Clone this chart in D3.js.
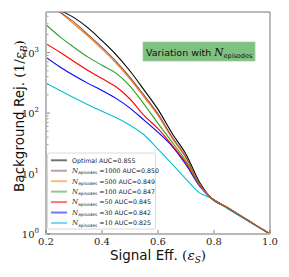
<!DOCTYPE html>
<html><head><meta charset="utf-8">
<script src="https://cdn.jsdelivr.net/npm/d3@7"></script>
<style>body{margin:0;background:#fff}svg{display:block}</style>
</head><body><svg id="c" width="289" height="277"></svg>
<script>
const eff = [0.2,0.25,0.3,0.35,0.4,0.45,0.5,0.55,0.6,0.65,0.7,0.75,0.786,0.85,0.9,0.95,1.0];
const optimal = [6800,5040,3790,2570,1574,927,497,242,115,46.5,20.9,6.97,4.09,2.70,1.94,1.39,1];
const n1000 = [7200,4700,3190,1990,1220,718,391,198,97,40.7,18.7,6.58,4.09,2.70,1.94,1.39,1];
const n500 = [7000,4670,2960,1875,1143,671,365,184,91,38.6,18.0,6.45,4.09,2.70,1.94,1.39,1];
const n100 = [2900,1824,1224,843,617,459,279,141,67.6,33.2,16.1,6.33,4.09,2.70,1.94,1.39,1];
const n50 = [1409,1012,713,508,372,272,171,91.6,55.4,29.6,14.9,6.26,4.09,2.70,1.94,1.39,1];
const n30 = [833,578,417,310,237,175,121,76.6,48,28.5,14.0,6.05,4.09,2.70,1.94,1.39,1];
const n10 = [313,236,179,137,107,84.6,63.1,43.8,25.3,14.4,8.11,4.74,4.01,2.59,1.87,1.37,1];
const labels = ["Optimal","1000","500","100","50","30","10"];
const aucs = ["0.855","0.850","0.849","0.847","0.845","0.842","0.825"];
const colors = ["#000000","#8c564b","#ff7f0e","#2ca02c","#ff0000","#0000ff","#00c4cc"];
const xTicks = [0.2,0.4,0.6,0.8,1.0];
const yTicks = [1,10,100,1000];

const series = [optimal,n1000,n500,n100,n50,n30,n10];
const svg = d3.select("#c");
const x = d3.scaleLinear().domain([0.2,1.0]).range([46,270]);
const y = d3.scaleLog().domain([1,4700]).range([234,12]);
const L = 46, R = 270, T = 12, B = 234;

svg.append("defs").append("clipPath").attr("id","clip")
  .append("rect").attr("x",L).attr("y",T).attr("width",R-L).attr("height",B-T);

const line = d3.line().x((d,i)=>x(eff[i])).y(d=>y(d)).curve(d3.curveMonotoneX);
const g = svg.append("g").attr("clip-path","url(#clip)");
const order = [0,6,5,4,3,2,1];
order.forEach(k=>{
  g.append("path").attr("d",line(series[k])).attr("fill","none")
   .attr("stroke",colors[k]).attr("stroke-width",1.1);
});

// spines
svg.append("line").attr("x1",L).attr("x2",R).attr("y1",T).attr("y2",T).attr("stroke","#777").attr("stroke-width",1);
svg.append("line").attr("x1",R).attr("x2",R).attr("y1",T).attr("y2",B).attr("stroke","#777").attr("stroke-width",1);
svg.append("line").attr("x1",L).attr("x2",L).attr("y1",T).attr("y2",B+1).attr("stroke","#b8b8b8").attr("stroke-width",2);
svg.append("line").attr("x1",L-1).attr("x2",R).attr("y1",B).attr("y2",B).attr("stroke","#b8b8b8").attr("stroke-width",2);

// y ticks
const minor = [];
for (let d=1; d<=1000; d*=10) for (let m=2;m<=9;m++) if (d*m<=4700) minor.push(d*m);
minor.forEach(v=>{
  svg.append("line").attr("x1",L+1).attr("x2",L+2.5).attr("y1",y(v)).attr("y2",y(v)).attr("stroke","#555").attr("stroke-width",0.6);
});
yTicks.forEach((v,i)=>{
  svg.append("line").attr("x1",L+1).attr("x2",L+4).attr("y1",y(v)).attr("y2",y(v)).attr("stroke","#555").attr("stroke-width",0.7);
  const t = svg.append("text").attr("x",39).attr("y",y(v)+4).attr("text-anchor","end")
    .attr("font-family","DejaVu Serif").attr("font-size",10).attr("fill","#222");
  t.append("tspan").text("10");
  t.append("tspan").attr("dy",-5).attr("font-size",7).text(String(Math.round(Math.log10(v))));
});
xTicks.forEach(v=>{
  svg.append("line").attr("x1",x(v)).attr("x2",x(v)).attr("y1",B-1).attr("y2",B-4).attr("stroke","#555").attr("stroke-width",0.7);
  svg.append("text").attr("x",x(v)).attr("y",245).attr("text-anchor","middle")
    .attr("font-family","DejaVu Serif").attr("font-size",10).attr("fill","#222").text(v.toFixed(1));
});

// axis labels
const xl = svg.append("text").attr("x",158).attr("y",260).attr("text-anchor","middle")
  .attr("font-family","DejaVu Sans").attr("font-size",13.5).attr("fill","#111");
xl.append("tspan").text("Signal Eff. ");
xl.append("tspan").attr("font-family","DejaVu Serif").text("(");
xl.append("tspan").attr("font-family","DejaVu Serif").attr("font-style","italic").text("ε");
xl.append("tspan").attr("font-family","DejaVu Serif").attr("font-style","italic").attr("font-size",9).attr("dy",2.5).text("S");
xl.append("tspan").attr("font-family","DejaVu Serif").attr("dy",-2.5).text(")");

const yl = svg.append("text").attr("transform","translate(24,116) rotate(-90)").attr("text-anchor","middle")
  .attr("font-family","DejaVu Sans").attr("font-size",13.5).attr("fill","#111");
yl.append("tspan").text("Background Rej. ");
yl.append("tspan").attr("font-family","DejaVu Serif").text("(1/");
yl.append("tspan").attr("font-family","DejaVu Serif").attr("font-style","italic").text("ε");
yl.append("tspan").attr("font-family","DejaVu Serif").attr("font-style","italic").attr("font-size",9).attr("dy",2.5).text("B");
yl.append("tspan").attr("font-family","DejaVu Serif").attr("dy",-2.5).text(")");

// annotation box
svg.append("rect").attr("x",143).attr("y",42).attr("width",112).attr("height",19)
  .attr("fill","#80c080").attr("stroke","#9fd09f").attr("stroke-width",0.8);
const bt = svg.append("text").attr("x",146).attr("y",55.5).attr("font-family","DejaVu Sans").attr("font-size",9.5).attr("fill","#111");
bt.append("tspan").text("Variation with ");
bt.append("tspan").attr("font-family","DejaVu Serif").attr("font-style","italic").attr("font-size",10.5).text("N");
bt.append("tspan").attr("font-size",6.5).attr("dy",2).text("episodes");

// legend
svg.append("rect").attr("x",47.5).attr("y",153).attr("width",108).attr("height",76).attr("rx",2)
  .attr("fill","#fff").attr("stroke","#d0d0d0").attr("stroke-width",0.8);
labels.forEach((lab,i)=>{
  const yy = 160.3 + i*10.45;
  svg.append("line").attr("x1",51).attr("x2",67).attr("y1",yy).attr("y2",yy)
    .attr("stroke",colors[i]).attr("stroke-opacity",0.55).attr("stroke-width",2);
  const t = svg.append("text").attr("x",72).attr("y",yy+2.3).attr("font-family","DejaVu Sans").attr("font-size",6.3).attr("fill","#222");
  if (i===0) {
    t.append("tspan").text("Optimal AUC=" + aucs[i]);
  } else {
    t.append("tspan").attr("font-family","DejaVu Serif").attr("font-style","italic").attr("font-size",7).text("N");
    t.append("tspan").attr("font-size",4.3).attr("dy",1.3).text("episodes");
    t.append("tspan").attr("font-family","DejaVu Serif").attr("dy",-1.3).text(" =" + lab + " ");
    t.append("tspan").text("AUC=" + aucs[i]);
  }
});
</script></body></html>
